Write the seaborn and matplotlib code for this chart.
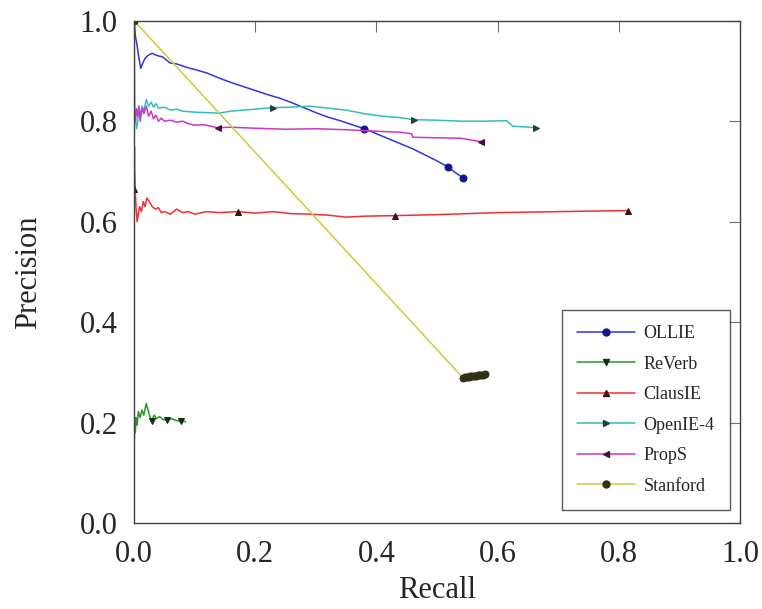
import matplotlib
matplotlib.use("Agg")
import matplotlib.pyplot as plt
import seaborn as sns
from matplotlib.lines import Line2D

sns.set_style("white")
plt.rcParams['font.family'] = ['Liberation Serif', 'DejaVu Serif']

# ---------------- data ----------------
ollie_x = [0.0, 0.002, 0.005, 0.008, 0.011, 0.014, 0.018, 0.022, 0.026, 0.03, 0.035, 0.04, 0.047,
           0.053, 0.059, 0.07, 0.08, 0.09, 0.10, 0.12, 0.14, 0.16, 0.18, 0.20, 0.22, 0.24, 0.26,
           0.28, 0.30, 0.32, 0.34, 0.36, 0.38, 0.40, 0.42, 0.44, 0.46, 0.48, 0.50, 0.518, 0.53, 0.543]
ollie_y = [1.0, 0.97, 0.95, 0.925, 0.905, 0.915, 0.925, 0.93, 0.933, 0.935, 0.932, 0.93, 0.928,
           0.922, 0.916, 0.914, 0.91, 0.906, 0.903, 0.896, 0.886, 0.877, 0.869, 0.861, 0.853, 0.846,
           0.837, 0.827, 0.817, 0.808, 0.801, 0.793, 0.785, 0.775, 0.765, 0.755, 0.745, 0.733, 0.721,
           0.709, 0.698, 0.687]
ollie_marks = [32, 39, 41]

reverb_x = [0.0, 0.001, 0.002, 0.003, 0.005, 0.007, 0.01, 0.013, 0.016, 0.02, 0.023, 0.026,
            0.029, 0.033, 0.037, 0.042, 0.048, 0.055, 0.062, 0.07, 0.077, 0.085]
reverb_y = [0.15, 0.20, 0.18, 0.21, 0.195, 0.222, 0.21, 0.225, 0.215, 0.238, 0.225, 0.212,
            0.203, 0.215, 0.208, 0.212, 0.206, 0.205, 0.208, 0.204, 0.203, 0.202]
reverb_marks = [12, 17, 20]

clausie_x = [0.0, 0.0005, 0.001, 0.002, 0.003, 0.005, 0.007, 0.009, 0.012, 0.015, 0.018, 0.021,
             0.025, 0.03, 0.035, 0.04, 0.045, 0.05, 0.06, 0.07, 0.08, 0.09, 0.10, 0.12, 0.14,
             0.171, 0.2, 0.23, 0.26, 0.29, 0.32, 0.35, 0.38, 0.43, 0.5, 0.55, 0.6, 0.65, 0.7,
             0.75, 0.815]
clausie_y = [0.665, 0.75, 0.70, 0.66, 0.63, 0.60, 0.615, 0.63, 0.62, 0.64, 0.63, 0.647, 0.64,
             0.63, 0.625, 0.628, 0.618, 0.62, 0.615, 0.625, 0.618, 0.62, 0.615, 0.62, 0.618,
             0.62, 0.617, 0.62, 0.616, 0.615, 0.613, 0.609, 0.611, 0.612, 0.614, 0.616, 0.618,
             0.619, 0.62, 0.621, 0.622]
clausie_marks = [0, 25, 33, 40]

openie_x = [0.0, 0.002, 0.004, 0.006, 0.008, 0.01, 0.013, 0.016, 0.02, 0.024, 0.028, 0.032,
            0.036, 0.04, 0.05, 0.06, 0.07, 0.08, 0.10, 0.12, 0.14, 0.16, 0.18, 0.20, 0.229,
            0.26, 0.29, 0.32, 0.35, 0.38, 0.41, 0.44, 0.462, 0.5, 0.54, 0.58, 0.615, 0.625,
            0.64, 0.664]
openie_y = [0.80, 0.81, 0.785, 0.80, 0.825, 0.81, 0.83, 0.82, 0.843, 0.83, 0.838, 0.828, 0.835,
            0.826, 0.828, 0.822, 0.824, 0.82, 0.818, 0.817, 0.816, 0.82, 0.822, 0.824, 0.827,
            0.828, 0.83, 0.826, 0.822, 0.815, 0.81, 0.807, 0.803, 0.802, 0.8, 0.8, 0.801, 0.79,
            0.789, 0.787]
openie_marks = [24, 32, 39]

props_x = [0.0, 0.0005, 0.001, 0.002, 0.004, 0.006, 0.008, 0.01, 0.013, 0.016, 0.02, 0.024,
           0.028, 0.032, 0.036, 0.04, 0.045, 0.05, 0.06, 0.07, 0.08, 0.09, 0.10, 0.115, 0.138,
           0.16, 0.2, 0.25, 0.3, 0.35, 0.4, 0.44, 0.458, 0.46, 0.5, 0.54, 0.573]
props_y = [1.0, 0.9, 0.82, 0.80, 0.825, 0.81, 0.83, 0.80, 0.825, 0.815, 0.83, 0.81, 0.82,
           0.805, 0.812, 0.8, 0.806, 0.8, 0.802, 0.798, 0.8, 0.795, 0.792, 0.793, 0.787, 0.788,
           0.786, 0.784, 0.785, 0.783, 0.78, 0.778, 0.775, 0.768, 0.767, 0.766, 0.759]
props_marks = [24, 36]

stanford_x = [0.0, 0.543, 0.546, 0.549, 0.552, 0.555, 0.558, 0.561, 0.564, 0.567, 0.570,
              0.573, 0.576, 0.579]
stanford_y = [1.0, 0.289, 0.290, 0.291, 0.291, 0.292, 0.292, 0.293, 0.293, 0.294, 0.294,
              0.295, 0.295, 0.296]

series = [
    ("OLLIE", ollie_x, ollie_y, ollie_marks, "#3535d8", "#151590", "o"),
    ("ReVerb", reverb_x, reverb_y, reverb_marks, "#2a962a", "#103010", "v"),
    ("ClausIE", clausie_x, clausie_y, clausie_marks, "#f03030", "#401010", "^"),
    ("OpenIE-4", openie_x, openie_y, openie_marks, "#35bcbc", "#204040", ">"),
    ("PropS", props_x, props_y, props_marks, "#cc35cc", "#401040", "<"),
    ("Stanford", stanford_x, stanford_y, list(range(len(stanford_x))), "#cccc3a", "#303018", "o"),
]

fig = plt.figure(figsize=(7.62, 6.09), dpi=100)
ax = fig.add_axes([0.176, 0.141, 0.795, 0.825])

MS = 5
handles = []
for name, xs, ys, marks, col, mcol, mk in series:
    sns.lineplot(x=xs, y=ys, ax=ax, color=col, linewidth=1.1, sort=False,
                 estimator=None, marker=mk, markevery=marks, markersize=MS,
                 markerfacecolor=mcol, markeredgecolor=mcol, label=None)
    handles.append(Line2D([], [], color=col, linewidth=1.1, marker=mk,
                          markersize=MS, markerfacecolor=mcol, markeredgecolor=mcol))

ax.set_xlim(0, 1)
ax.set_ylim(0, 1)
ticks = [0.0, 0.2, 0.4, 0.6, 0.8, 1.0]
ax.set_xticks(ticks)
ax.set_yticks(ticks)
ax.set_xticklabels([f"{t:.1f}" for t in ticks])
ax.set_yticklabels([f"{t:.1f}" for t in ticks])
ax.tick_params(direction="in", length=8, width=0.8, color="#707070",
               top=True, right=True, labelsize=22, pad=12)
for s in ax.spines.values():
    s.set_color("#404040")
    s.set_linewidth(1.0)

ax.set_xlabel("Recall", fontsize=22, labelpad=5)
ax.set_ylabel("Precision", fontsize=22, labelpad=26)

leg = ax.legend(handles, [s[0] for s in series], loc="lower right",
                bbox_to_anchor=(0.983, 0.026), fontsize=13, frameon=True,
                fancybox=False, edgecolor="#303030", handlelength=3.2,
                handletextpad=0.45, labelspacing=0.75, borderpad=0.85,
                borderaxespad=0)
leg.get_frame().set_linewidth(1.0)

fig.savefig("out.png", dpi=100)
